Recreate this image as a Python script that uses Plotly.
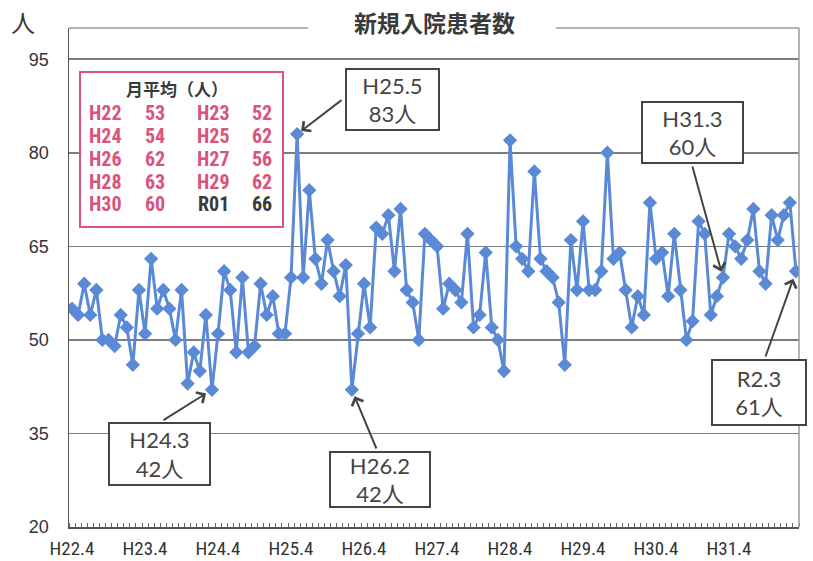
import plotly.graph_objects as go

# ---------------- data ----------------
patients = [
    55, 54, 59, 54, 58, 50, 50, 49, 54, 52, 46, 58,   # H22.4 - H23.3
    51, 63, 55, 58, 55, 50, 58, 43, 48, 45, 54, 42,   # H23.4 - H24.3
    51, 61, 58, 48, 60, 48, 49, 59, 54, 57, 51, 51,   # H24.4 - H25.3
    60, 83, 60, 74, 63, 59, 66, 61, 57, 62, 42, 51,   # H25.4 - H26.3
    59, 52, 68, 67, 70, 61, 71, 58, 56, 50, 67, 66,   # H26.4 - H27.3
    65, 55, 59, 58, 56, 67, 52, 54, 64, 52, 50, 45,   # H27.4 - H28.3
    82, 65, 63, 61, 77, 63, 61, 60, 56, 46, 66, 58,   # H28.4 - H29.3
    69, 58, 58, 61, 80, 63, 64, 58, 52, 57, 54, 72,   # H29.4 - H30.3
    63, 64, 57, 67, 58, 50, 53, 69, 67, 54, 57, 60,   # H30.4 - H31.3
    67, 65, 63, 66, 71, 61, 59, 70, 66, 70, 72, 61,   # H31.4 - R2.3
]
tick_labels = ["H22.4", "H23.4", "H24.4", "H25.4", "H26.4",
               "H27.4", "H28.4", "H29.4", "H30.4", "H31.4"]
y_ticks = [20, 35, 50, 65, 80, 95]

avg_years = ["H22", "H23", "H24", "H25", "H26", "H27", "H28", "H29", "H30", "R01"]
avg_values = [53, 52, 54, 62, 62, 56, 63, 62, 60, 66]

callout_labels = ["H24.3", "H25.5", "H26.2", "H31.3", "R2.3"]
callout_index = [23, 37, 46, 107, 119]

# ---------------- style / geometry ----------------
W, H = 813, 561
L, R, T, B = 69, 799, 28, 527
BLUE = "#5a8ad6"
PINK = "#d9537b"
DARK = "#3a3a3a"
NARROW = "Liberation Sans Narrow, Arial Narrow, Roboto Condensed, Liberation Sans, sans-serif"
CJK = "Noto Sans CJK JP, sans-serif"
BOXFONT = "Lato, Noto Sans CJK JP, sans-serif"


def px_x(px):
    return (px - L) / (R - L)


def px_y(py):
    return (B - py) / (B - T)


x = list(range(len(patients)))

fig = go.Figure(go.Scatter(
    x=x, y=patients, mode="lines+markers",
    line=dict(color=BLUE, width=3),
    marker=dict(symbol="diamond", size=11, color=BLUE),
    hoverinfo="skip",
))

fig.update_layout(
    width=W, height=H,
    margin=dict(l=L, r=W - R, t=T, b=H - B),
    plot_bgcolor="white", paper_bgcolor="white",
    showlegend=False,
)

fig.update_xaxes(
    range=[-0.5, len(patients) - 0.5],
    tickvals=[12 * k for k in range(len(tick_labels))],
    ticktext=tick_labels,
    showgrid=False, zeroline=False,
    showline=True, linecolor="#555", linewidth=1.5,
    ticks="",
    minor=dict(ticks="inside", tick0=-0.5, dtick=1, ticklen=4,
               tickcolor="#666", tickwidth=1, showgrid=False),
    tickfont=dict(family=NARROW, size=19, color="#333"),
    ticklabelstandoff=4,
    automargin=False,
)
fig.update_yaxes(
    range=[20, 100],
    tickvals=y_ticks,
    showgrid=True, gridcolor="#7d7d7d", gridwidth=1.5,
    zeroline=False,
    showline=True, linecolor="#555", linewidth=1.5,
    ticks="",
    tickfont=dict(family="Liberation Sans, Arial, sans-serif", size=18, color="#333"),
    ticklabelstandoff=15,
    automargin=False,
)

shapes = []
# top border (with gap for the title) and right border
shapes.append(dict(type="line", xref="paper", yref="paper",
                   x0=0, x1=px_x(308), y0=1, y1=1,
                   line=dict(color="#9a9a9a", width=1.5), layer="above"))
shapes.append(dict(type="line", xref="paper", yref="paper",
                   x0=px_x(556), x1=1, y0=1, y1=1,
                   line=dict(color="#9a9a9a", width=1.5), layer="above"))
shapes.append(dict(type="line", xref="paper", yref="paper",
                   x0=1, x1=1, y0=0, y1=1,
                   line=dict(color="#9a9a9a", width=1.5), layer="above"))
# monthly average box
shapes.append(dict(type="rect", xref="paper", yref="paper",
                   x0=px_x(80), x1=px_x(283), y0=px_y(227), y1=px_y(72),
                   line=dict(color=PINK, width=2), fillcolor="white", layer="above"))
fig.update_layout(shapes=shapes)

ann = []
# title and unit
ann.append(dict(xref="paper", yref="paper", x=px_x(434), y=px_y(22),
                text="<b>新規入院患者数</b>", showarrow=False,
                font=dict(family=CJK, size=23, color=DARK),
                xanchor="center", yanchor="middle"))
ann.append(dict(xref="paper", yref="paper", x=px_x(23), y=px_y(22),
                text="人", showarrow=False,
                font=dict(family=CJK, size=24, color=DARK),
                xanchor="center", yanchor="middle"))

# average table
ann.append(dict(xref="paper", yref="paper", x=px_x(177), y=px_y(88),
                text="<b>月平均（人）</b>", showarrow=False,
                font=dict(family=CJK, size=17, color=DARK),
                xanchor="center", yanchor="middle"))
row_y = [112.5, 135.5, 158.5, 181.5, 204.5]
col_lab = [105, 213]
col_val = [155, 262]
for k, (yr, v) in enumerate(zip(avg_years, avg_values)):
    r, c = divmod(k, 2)
    col = DARK if yr.startswith("R") else PINK
    ann.append(dict(xref="paper", yref="paper", x=px_x(col_lab[c]), y=px_y(row_y[r]),
                    text=f"<b>{yr}</b>", showarrow=False,
                    font=dict(family=NARROW, size=20, color=col),
                    xanchor="center", yanchor="middle"))
    ann.append(dict(xref="paper", yref="paper", x=px_x(col_val[c]), y=px_y(row_y[r]),
                    text=f"<b>{v}</b>", showarrow=False,
                    font=dict(family=NARROW, size=20, color=col),
                    xanchor="center", yanchor="middle"))

# callouts: box centre (px), box size, arrow tail (px)
box_centers = [(159.5, 454), (392, 99.5), (380, 479.5), (692, 132), (759, 392)]
box_sizes = [(103, 64), (95, 63), (102, 57), (103, 63), (96, 67)]
arrow_tails = [(162, 421), (343, 99), (377, 450), (692, 165), (765, 358)]
standoffs = [7, 5, 7, 6, 8]


# pixel of a data point
def data_px(i, v):
    return (L + (i + 0.5) * (R - L) / len(patients),
            B - (v - 20) * (B - T) / 80)


for lab, idx, (cx, cy), (bw, bh), (tx, ty), so in zip(
        callout_labels, callout_index, box_centers, box_sizes, arrow_tails, standoffs):
    val = patients[idx]
    px, py = data_px(idx, val)
    ann.append(dict(xref="x", yref="y", x=idx, y=val, text="",
                    showarrow=True, ax=tx - px, ay=ty - py,
                    arrowhead=4, arrowsize=1.2, arrowwidth=2,
                    arrowcolor="#444", standoff=so))
    ann.append(dict(xref="paper", yref="paper", x=px_x(cx), y=px_y(cy),
                    text=f"{lab}<br>{val}人", showarrow=False,
                    font=dict(family=BOXFONT, size=22, color="#444"),
                    align="center", xanchor="center", yanchor="middle",
                    width=bw - 4, height=bh - 4, borderpad=0,
                    bordercolor="#444", borderwidth=2, bgcolor="white"))

fig.update_layout(annotations=ann)

fig.write_html(
    "out.html",
    config={"displayModeBar": False, "staticPlot": True},
    post_script="document.body.style.margin='0';document.body.style.padding='0';",
)
